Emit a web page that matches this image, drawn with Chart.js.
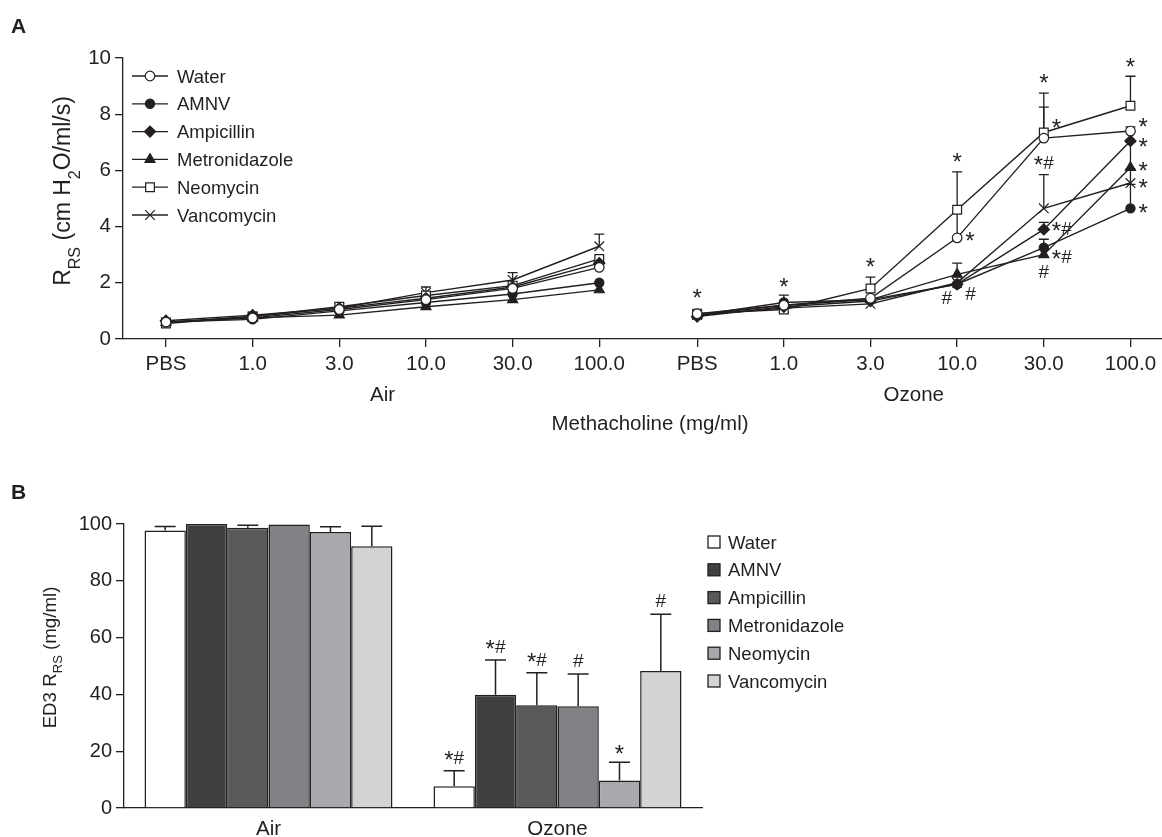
<!DOCTYPE html>
<html>
<head>
<meta charset="utf-8">
<script src="https://cdn.jsdelivr.net/npm/chart.js@4.4.1/dist/chart.umd.min.js"></script>
<style>
html, body { margin: 0; padding: 0; background: #fff; }
body { width: 1162px; height: 837px; position: relative; overflow: hidden; }
#wrapA { position: absolute; left: 0; top: 0; width: 1162px; height: 450px; }
#wrapB { position: absolute; left: 0; top: 470px; width: 1162px; height: 367px; }
</style>
</head>
<body>
<div id="wrapA"><canvas id="chartA"></canvas></div>
<div id="wrapB"><canvas id="chartB"></canvas></div>
<script>
// ---- data ----
const doseLabels = ['PBS', '1.0', '3.0', '10.0', '30.0', '100.0'];
const exposureLabels = ['Air', 'Ozone'];
const treatmentNames = ['Water', 'AMNV', 'Ampicillin', 'Metronidazole', 'Neomycin', 'Vancomycin'];

// panel A: RRS (cm H2O/ml/s), 6 air doses then 6 ozone doses
const rrsWater         = [0.60, 0.75, 1.05, 1.40, 1.80, 2.55,  0.90, 1.20, 1.45, 3.60, 7.15, 7.40];
const rrsAMNV          = [0.60, 0.70, 1.00, 1.30, 1.60, 2.00,  0.85, 1.30, 1.40, 1.95, 3.25, 4.65];
const rrsAmpicillin    = [0.65, 0.85, 1.10, 1.45, 1.85, 2.70,  0.80, 1.15, 1.35, 1.95, 3.90, 7.05];
const rrsMetronidazole = [0.60, 0.75, 0.85, 1.15, 1.40, 1.75,  0.85, 1.20, 1.40, 2.30, 3.00, 6.10];
const rrsNeomycin      = [0.55, 0.80, 1.15, 1.55, 1.90, 2.85,  0.90, 1.05, 1.80, 4.60, 7.35, 8.30];
const rrsVancomycin    = [0.60, 0.80, 1.10, 1.65, 2.10, 3.30,  0.85, 1.10, 1.25, 2.00, 4.65, 5.55];

// upper error (SEM) for panel A, 0 where hidden by the marker
const semWater         = [0, 0, 0, 0, 0, 0,        0, 0, 0, 0.90, 1.10, 0.15];
const semAMNV          = [0, 0, 0, 0, 0, 0,        0, 0.26, 0, 0, 0.30, 0.85];
const semAmpicillin    = [0, 0, 0, 0, 0, 0,        0, 0, 0, 0, 0.25, 0.35];
const semMetronidazole = [0, 0, 0, 0, 0, 0,        0, 0, 0, 0.40, 0.20, 0.90];
const semNeomycin      = [0, 0, 0, 0, 0, 0,        0, 0, 0.40, 1.35, 1.40, 1.05];
const semVancomycin    = [0, 0, 0, 0.20, 0.26, 0.43, 0, 0, 0, 0, 1.20, 0.50];

// significance marks in panel A (ozone doses): dose index, level, text, side
const sigMarksA = [
    { dose: 0, y: 1.67, text: '*', side: 'c' },
    { dose: 1, y: 2.03, text: '*', side: 'c' },
    { dose: 2, y: 2.74, text: '*', side: 'c' },
    { dose: 3, y: 6.48, text: '*', side: 'c' },
    { dose: 3, y: 3.67, text: '*', side: 'r' },
    { dose: 3, y: 1.49, text: '#', side: 'l' },
    { dose: 3, y: 1.64, text: '#', side: 'r' },
    { dose: 4, y: 9.29, text: '*', side: 'c' },
    { dose: 4, y: 7.72, text: '*', side: 'r' },
    { dose: 4, y: 6.30, text: '*#', side: 'c' },
    { dose: 4, y: 3.95, text: '*#', side: 'r' },
    { dose: 4, y: 2.95, text: '*#', side: 'r' },
    { dose: 4, y: 2.43, text: '#', side: 'c' },
    { dose: 5, y: 9.86, text: '*', side: 'c' },
    { dose: 5, y: 7.73, text: '*', side: 'r' },
    { dose: 5, y: 7.02, text: '*', side: 'r' },
    { dose: 5, y: 6.17, text: '*', side: 'r' },
    { dose: 5, y: 5.58, text: '*', side: 'r' },
    { dose: 5, y: 4.67, text: '*', side: 'r' }
];

// panel B: ED3 RRS (mg/ml), [Air, Ozone]
const ed3Water         = [97.7, 7.7];
const ed3AMNV          = [100.0, 39.9];
const ed3Ampicillin    = [98.7, 36.2];
const ed3Metronidazole = [99.8, 35.8];
const ed3Neomycin      = [97.2, 9.7];
const ed3Vancomycin    = [92.2, 48.2];

const errWater         = [1.4, 5.4];
const errAMNV          = [0, 12.2];
const errAmpicillin    = [0.9, 11.4];
const errMetronidazole = [0, 11.4];
const errNeomycin      = [1.8, 6.4];
const errVancomycin    = [7.0, 20.0];

const sigOzoneB = ['*#', '*#', '*#', '#', '*', '#'];

// ---- styling ----
const ink = '#231f20';
const fontFamily = '"Liberation Sans", Arial, Helvetica, sans-serif';
Chart.defaults.font.family = fontFamily;
Chart.defaults.color = ink;

const ozoneOffset = 6.13;   // gap between the air and ozone dose groups
const barColors = ['#ffffff', '#404041', '#58595b', '#808285', '#a7a9ac', '#d1d3d4'];
const markerStyles = [
    { pointStyle: 'circle',   radius: 4.8, fill: '#ffffff' },
    { pointStyle: 'circle',   radius: 4.6, fill: ink },
    { pointStyle: 'rectRot',  radius: 5.6, fill: ink },
    { pointStyle: 'triangle', radius: 5.8, fill: ink },
    { pointStyle: 'rect',     radius: 6.2, fill: '#ffffff' },
    { pointStyle: 'crossRot', radius: 6.8, fill: ink }
];

const rrsSeries = [rrsWater, rrsAMNV, rrsAmpicillin, rrsMetronidazole, rrsNeomycin, rrsVancomycin];
const semSeries = [semWater, semAMNV, semAmpicillin, semMetronidazole, semNeomycin, semVancomycin];
const ed3Series = [ed3Water, ed3AMNV, ed3Ampicillin, ed3Metronidazole, ed3Neomycin, ed3Vancomycin];
const errSeries = [errWater, errAMNV, errAmpicillin, errMetronidazole, errNeomycin, errVancomycin];

const n = doseLabels.length;
const doseX = i => (i < n ? i : i - n + ozoneOffset);

function toPoints(vals, sem) {
    const pts = [];
    vals.forEach((v, i) => {
        if (i === n) pts.push({ x: (n - 1 + ozoneOffset) / 2, y: null, e: 0 });
        pts.push({ x: doseX(i), y: v, e: sem[i] });
    });
    return pts;
}

function font(size, bold) {
    return (bold ? 'bold ' : '') + size + 'px ' + fontFamily;
}

// rotated text with subscripts; cx = baseline, cy = centre along the text
function drawRich(ctx, parts, cx, cy, size, subDrop) {
    ctx.save();
    ctx.translate(cx, cy);
    ctx.rotate(-Math.PI / 2);
    ctx.fillStyle = ink;
    ctx.textAlign = 'left';
    ctx.textBaseline = 'alphabetic';
    let total = 0;
    parts.forEach(p => { ctx.font = font(p.sub ? size * 0.7 : size); total += ctx.measureText(p.t).width; });
    let x = -total / 2;
    parts.forEach(p => {
        ctx.font = font(p.sub ? size * 0.7 : size);
        ctx.fillText(p.t, x, p.sub ? size * subDrop : 0);
        x += ctx.measureText(p.t).width;
    });
    ctx.restore();
}

// '*' drawn larger than '#', both roughly centred on y
function drawSig(ctx, text, x, y, align) {
    const chars = text.split('');
    const spec = c => (c === '*' ? { size: 24, drop: 0.56 } : { size: 19, drop: 0.36 });
    let total = 0;
    chars.forEach(c => { ctx.font = font(spec(c).size); total += ctx.measureText(c).width; });
    let start = align === 'center' ? x - total / 2 : align === 'right' ? x - total : x;
    ctx.textAlign = 'left';
    ctx.textBaseline = 'alphabetic';
    const hasHash = text.indexOf('#') >= 0;
    chars.forEach(c => {
        const s = spec(c);
        ctx.font = font(s.size);
        // in '*#' pairs the star sits higher, like a superscript
        const dy = (c === '*' && hasHash) ? s.size * 0.45 : s.size * s.drop;
        ctx.fillText(c, start, y + dy);
        start += ctx.measureText(c).width;
    });
}

function drawMarker(ctx, style, x, y) {
    ctx.save();
    ctx.fillStyle = style.fill;
    ctx.strokeStyle = ink;
    ctx.lineWidth = 1.2;
    Chart.helpers.drawPoint(ctx, { pointStyle: style.pointStyle, radius: style.radius, rotation: 0, borderWidth: 1.2 }, x, y);
    ctx.restore();
}

// ---- panel A ----
const panelA = {
    id: 'panelA',
    beforeDatasetsDraw(chart) {
        const { ctx, scales: { y } } = chart;
        ctx.save();
        ctx.strokeStyle = ink;
        ctx.lineWidth = 1.3;
        chart.data.datasets.forEach((ds, di) => {
            const meta = chart.getDatasetMeta(di);
            ds.data.forEach((p, i) => {
                if (p.y == null || !p.e) return;
                const el = meta.data[i];
                const top = y.getPixelForValue(p.y + p.e);
                ctx.beginPath();
                ctx.moveTo(el.x, el.y);
                ctx.lineTo(el.x, top);
                ctx.moveTo(el.x - 5, top);
                ctx.lineTo(el.x + 5, top);
                ctx.stroke();
            });
        });
        ctx.restore();
    },
    afterDraw(chart) {
        const { ctx, chartArea: area, scales: { x, y } } = chart;
        ctx.save();
        ctx.fillStyle = ink;

        ctx.font = font(21, true);
        ctx.textAlign = 'left';
        ctx.textBaseline = 'alphabetic';
        ctx.fillText('A', 11, 33);

        drawRich(ctx, [{ t: 'R' }, { t: 'RS', sub: true }, { t: ' (cm H' }, { t: '2', sub: true }, { t: 'O/ml/s)' }], 70, 191, 23, 0.45);

        ctx.font = font(20.5);
        ctx.textAlign = 'center';
        exposureLabels.forEach((lab, g) => {
            const cx = (x.getPixelForValue(doseX(g * n)) + x.getPixelForValue(doseX(g * n + n - 1))) / 2;
            ctx.fillText(lab, cx, 401);
        });
        ctx.fillText('Methacholine (mg/ml)', 650, 430);

        // legend
        treatmentNames.forEach((name, k) => {
            const ry = area.top + 18 + k * 27.8;
            ctx.strokeStyle = ink;
            ctx.lineWidth = 1.3;
            ctx.beginPath();
            ctx.moveTo(area.left + 9, ry);
            ctx.lineTo(area.left + 45, ry);
            ctx.stroke();
            drawMarker(ctx, markerStyles[k], area.left + 27, ry);
            ctx.fillStyle = ink;
            ctx.font = font(18.5);
            ctx.textAlign = 'left';
            ctx.fillText(name, area.left + 54, ry + 18.5 * 0.36);
        });

        // significance marks
        ctx.fillStyle = ink;
        sigMarksA.forEach(m => {
            const px = x.getPixelForValue(doseX(n + m.dose));
            const py = y.getPixelForValue(m.y);
            if (m.side === 'c') drawSig(ctx, m.text, px, py, 'center');
            else if (m.side === 'r') drawSig(ctx, m.text, px + 8, py, 'left');
            else drawSig(ctx, m.text, px - 5, py, 'right');
        });
        ctx.restore();
    }
};

const tickPositions = rrsWater.map((v, i) => doseX(i));

new Chart(document.getElementById('chartA'), {
    type: 'line',
    data: {
        datasets: treatmentNames.map((name, k) => ({
            label: name,
            data: toPoints(rrsSeries[k], semSeries[k]),
            borderColor: ink,
            borderWidth: 1.4,
            tension: 0,
            spanGaps: false,
            pointStyle: markerStyles[k].pointStyle,
            pointRadius: markerStyles[k].radius,
            pointBackgroundColor: markerStyles[k].fill,
            pointBorderColor: ink,
            pointBorderWidth: 1.2
        }))
    },
    options: {
        responsive: true,
        maintainAspectRatio: false,
        animation: false,
        events: [],
        layout: { autoPadding: false, padding: { top: 58, right: 0, left: 0, bottom: 0 } },
        plugins: { legend: { display: false }, tooltip: { enabled: false } },
        scales: {
            x: {
                type: 'linear',
                min: -0.496,
                max: 11.494,
                afterBuildTicks: scale => { scale.ticks = tickPositions.map(v => ({ value: v })); },
                afterFit: scale => { scale.height = 111; scale.paddingLeft = 0; scale.paddingRight = 0; },
                ticks: {
                    autoSkip: false,
                    maxRotation: 0,
                    padding: 5,
                    font: { size: 20.5 },
                    color: ink,
                    callback: (v, i) => doseLabels[i % n]
                },
                grid: { drawOnChartArea: false, drawTicks: true, tickLength: 8, color: ink, lineWidth: 1.3 },
                border: { color: ink, width: 1.3 }
            },
            y: {
                min: 0,
                max: 10,
                afterFit: scale => { scale.width = 123; },
                ticks: { stepSize: 2, padding: 4, font: { size: 20.5 }, color: ink },
                grid: { drawOnChartArea: false, drawTicks: true, tickLength: 8, color: ink, lineWidth: 1.3 },
                border: { color: ink, width: 1.3 }
            }
        }
    },
    plugins: [panelA]
});

// ---- panel B ----
const panelB = {
    id: 'panelB',
    afterDatasetsDraw(chart) {
        const { ctx, scales: { y } } = chart;
        ctx.save();
        ctx.strokeStyle = ink;
        ctx.fillStyle = ink;
        ctx.lineWidth = 1.5;
        chart.data.datasets.forEach((ds, di) => {
            const meta = chart.getDatasetMeta(di);
            ds.data.forEach((v, i) => {
                const el = meta.data[i];
                const err = ds.errors[i];
                const top = y.getPixelForValue(v + err);
                if (err > 0) {
                    ctx.beginPath();
                    ctx.moveTo(el.x, el.y);
                    ctx.lineTo(el.x, top);
                    ctx.moveTo(el.x - 10.5, top);
                    ctx.lineTo(el.x + 10.5, top);
                    ctx.stroke();
                }
                if (i === 1) drawSig(ctx, sigOzoneB[di], el.x, top - 14, 'center');
            });
        });
        ctx.restore();
    },
    afterDraw(chart) {
        const { ctx, chartArea: area } = chart;
        ctx.save();
        ctx.fillStyle = ink;
        ctx.font = font(21, true);
        ctx.textAlign = 'left';
        ctx.textBaseline = 'alphabetic';
        ctx.fillText('B', 11, 29);

        drawRich(ctx, [{ t: 'ED3 R' }, { t: 'RS', sub: true }, { t: ' (mg/ml)' }], 56, 187.5, 18.7, 0.3);

        treatmentNames.forEach((name, k) => {
            const ry = area.top + 18 + k * 27.8;
            ctx.fillStyle = barColors[k];
            ctx.strokeStyle = ink;
            ctx.lineWidth = 1.3;
            ctx.fillRect(area.right + 6, ry - 6, 12, 12);
            ctx.strokeRect(area.right + 6, ry - 6, 12, 12);
            ctx.fillStyle = ink;
            ctx.font = font(18.5);
            ctx.fillText(name, area.right + 26, ry + 18.5 * 0.36);
        });
        ctx.restore();
    }
};

new Chart(document.getElementById('chartB'), {
    type: 'bar',
    data: {
        labels: exposureLabels,
        datasets: treatmentNames.map((name, k) => ({
            label: name,
            data: ed3Series[k],
            errors: errSeries[k],
            backgroundColor: barColors[k],
            borderColor: ink,
            borderWidth: 1.5,
            barPercentage: 1,
            categoryPercentage: 0.858
        }))
    },
    options: {
        responsive: true,
        maintainAspectRatio: false,
        animation: false,
        events: [],
        layout: { autoPadding: false, padding: { top: 54, right: 460, left: 0, bottom: 0 } },
        plugins: { legend: { display: false }, tooltip: { enabled: false } },
        scales: {
            x: {
                afterFit: scale => { scale.height = 29; scale.paddingLeft = 0; scale.paddingRight = 0; },
                ticks: { padding: 1, font: { size: 20.5 }, color: ink },
                grid: { display: false },
                border: { color: ink, width: 1.3 }
            },
            y: {
                min: 0,
                max: 100,
                afterFit: scale => { scale.width = 124; },
                ticks: { stepSize: 20, padding: 4, font: { size: 20 }, color: ink },
                grid: { drawOnChartArea: false, drawTicks: true, tickLength: 8, color: ink, lineWidth: 1.3 },
                border: { color: ink, width: 1.3 }
            }
        }
    },
    plugins: [panelB]
});
</script>
</body>
</html>
